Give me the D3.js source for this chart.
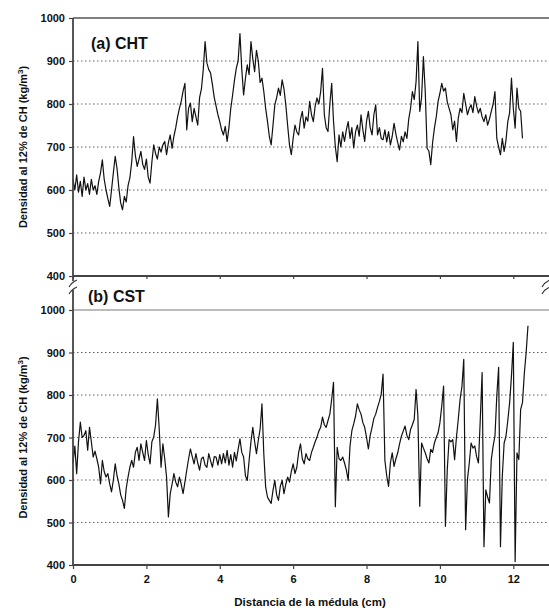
<!DOCTYPE html>
<html>
<head>
<meta charset="utf-8">
<script src="https://cdn.jsdelivr.net/npm/d3@7"></script>
<style>
  html, body { margin: 0; padding: 0; background: #fff; }
  svg { display: block; font-family: Arial, "Liberation Sans", sans-serif; }
  .tick text { font-weight: bold; font-size: 11px; fill: #111; }
</style>
</head>
<body>
<div id="chart"></div>
<script>
// sampling step of the densitometer profile (cm)
const STEP = 0.05

// (a) CHT density profile, kg/m3, one value every STEP cm from the pith
const chtDensity = [
  625, 600, 635, 595, 620, 585, 630, 600, 615, 590,
  625, 600, 610, 590, 620, 640, 670, 625, 600, 580,
  562, 600, 640, 678, 650, 605, 570, 554, 585, 572,
  610, 628, 665, 724, 680, 655, 672, 690, 660, 648,
  672, 630, 616, 665, 705, 685, 672, 700, 688, 705,
  713, 682, 710, 728, 697, 725, 745, 770, 790, 806,
  830, 848, 740, 790, 802, 759, 790, 770, 751, 815,
  835, 880, 945, 895, 880, 872, 845, 815, 795, 775,
  759, 740, 728, 748, 713, 745, 790, 821, 855, 883,
  900, 964, 880, 821, 860, 891, 868, 945, 905, 875,
  925, 900, 850, 860, 829, 790, 760, 725, 705, 750,
  798, 815, 837, 820, 856, 835, 798, 750, 705, 682,
  720, 751, 735, 728, 765, 783, 744, 770, 760, 806,
  775, 759, 795, 814, 800, 829, 883, 775, 745, 736,
  800, 848, 760, 700, 666, 728, 700, 735, 713, 740,
  759, 720, 745, 698, 735, 751, 725, 775, 740, 713,
  760, 783, 745, 728, 775, 798, 728, 745, 720, 717,
  740, 712, 736, 705, 725, 755, 730, 710, 693, 725,
  712, 735, 720, 765, 790, 829, 810, 852, 945, 783,
  815, 910, 829, 697, 690, 659, 710, 744, 770, 806,
  825, 848, 830, 837, 805, 790, 775, 740, 760, 713,
  767, 790, 780, 825, 800, 775, 790, 798, 780, 817,
  795, 779, 790, 770, 759, 775, 751, 765, 783, 800,
  829, 720, 700, 682, 720, 690, 715, 759, 780, 860,
  790, 744, 837, 790, 783, 720,
]

// (b) CST density profile, kg/m3, one value every STEP cm from the pith
const cstDensity = [
  640, 680, 615, 690, 736, 700, 705, 716, 670, 724,
  690, 654, 668, 650, 630, 591, 646, 620, 607, 615,
  591, 572, 600, 638, 610, 591, 565, 552, 533, 580,
  607, 630, 646, 630, 665, 677, 646, 685, 665, 646,
  693, 660, 638, 690, 701, 730, 791, 720, 630, 685,
  650, 607, 513, 568, 590, 615, 595, 584, 607, 590,
  568, 595, 623, 650, 673, 655, 638, 662, 640, 623,
  650, 654, 635, 630, 662, 645, 630, 655, 654, 635,
  660, 638, 662, 640, 670, 635, 660, 630, 665, 645,
  672, 697, 665, 654, 610, 599, 646, 690, 724, 690,
  662, 693, 720, 779, 662, 584, 560, 552, 545, 575,
  599, 565, 552, 585, 599, 568, 590, 607, 595, 620,
  638, 615, 630, 665, 685, 650, 638, 662, 650, 646,
  665, 677, 690, 701, 715, 724, 748, 730, 724, 740,
  755, 790, 830, 537, 677, 650, 646, 654, 640, 623,
  599, 680, 716, 732, 750, 779, 765, 755, 735, 724,
  700, 673, 705, 724, 745, 755, 771, 785, 802, 849,
  646, 610, 585, 640, 664, 632, 650, 664, 685, 703,
  715, 727, 705, 695, 719, 730, 743, 813, 750, 538,
  687, 675, 664, 650, 640, 672, 665, 687, 700, 711,
  735, 774, 821, 491, 624, 695, 690, 695, 648, 700,
  743, 790, 820, 884, 483, 601, 640, 687, 675, 680,
  655, 640, 743, 853, 443, 577, 560, 546, 648, 680,
  703, 798, 865, 443, 609, 687, 703, 740, 782, 845,
  924, 408, 664, 648, 766, 782, 850, 900, 963,
]

const densityTicks = [400, 500, 600, 700, 800, 900, 1000]
const gridTicks = [500, 600, 700, 800, 900]
const distanceTicks = [0, 2, 4, 6, 8, 10, 12]

const panels = [
  { label: "(a) ", name: "CHT", values: chtDensity, top: 18, bottom: 276 },
  { label: "(b) ", name: "CST", values: cstDensity, top: 310, bottom: 565 },
]

const width = 549
const height = 615
const left = 73

const svg = d3
  .select("#chart")
  .append("svg")
  .attr("width", width)
  .attr("height", height)

const x = d3.scaleLinear().domain([0, 13]).range([left, 550])

/*
 * ------------------------------------------------
 * One panel per profile
 * ------------------------------------------------
 */
panels.forEach((p, k) => {
  const y = d3.scaleLinear().domain([400, 1000]).range([p.bottom, p.top])

  // dotted grid
  svg
    .append("g")
    .selectAll("line")
    .data(gridTicks)
    .enter()
    .append("line")
    .attr("x1", left)
    .attr("x2", width)
    .attr("y1", (d) => y(d))
    .attr("y2", (d) => y(d))
    .attr("stroke", "#666")
    .attr("stroke-width", 1.2)
    .attr("stroke-dasharray", "1.5,2.5")

  // 1000 line closes the panel
  svg
    .append("line")
    .attr("x1", left)
    .attr("x2", width)
    .attr("y1", y(1000))
    .attr("y2", y(1000))
    .attr("stroke", k === 0 ? "#555" : "#bbb")
    .attr("stroke-width", k === 0 ? 1.6 : 1.8)

  // profile
  const line = d3
    .line()
    .x((d, i) => x(i * STEP))
    .y((d) => y(d))

  svg
    .append("path")
    .datum(p.values)
    .attr("d", line)
    .attr("fill", "none")
    .attr("stroke", "#111")
    .attr("stroke-width", 1.2)
    .attr("stroke-linejoin", "round")

  // y axis
  const yAxis = svg
    .append("g")
    .attr("transform", `translate(${left},0)`)
    .call(
      d3.axisLeft(y).tickValues(densityTicks).tickSize(4).tickPadding(4).tickFormat(d3.format("d"))
    )
  yAxis.select(".domain").remove()
  yAxis.selectAll(".tick line").attr("stroke", "#444").attr("stroke-width", 1.2)

  // x axis
  const xAxis = svg
    .append("g")
    .attr("transform", `translate(0,${p.bottom})`)
    .call(
      d3.axisBottom(x).tickValues(distanceTicks).tickSize(k === 0 ? 3 : 4).tickPadding(6)
        .tickFormat(k === 0 ? "" : d3.format("d"))
    )
  xAxis.select(".domain").remove()
  xAxis.selectAll(".tick line").attr("stroke", "#444").attr("stroke-width", 1.2)

  svg
    .append("line")
    .attr("x1", left)
    .attr("x2", width)
    .attr("y1", p.bottom)
    .attr("y2", p.bottom)
    .attr("stroke", "#444")
    .attr("stroke-width", 1.8)

  // panel label
  const lab = svg
    .append("text")
    .attr("x", k === 0 ? 91 : 88)
    .attr("y", k === 0 ? 49 : 302)
    .attr("font-size", 16)
    .attr("font-weight", "bold")
    .attr("fill", "#111")
  lab.append("tspan").text(p.label)
  lab.append("tspan").text(p.name)

  // y title
  const yTitle = svg
    .append("text")
    .attr("transform", `translate(27,${(p.top + p.bottom) / 2}) rotate(-90)`)
    .attr("text-anchor", "middle")
    .attr("font-size", 11)
    .attr("font-weight", "bold")
    .attr("fill", "#111")
  yTitle.append("tspan").text("Densidad al 12% de CH (kg/m")
  yTitle.append("tspan").attr("font-size", 8).attr("dy", -4).text("3")
  yTitle.append("tspan").attr("dy", 4).text(")")
})

/*
 * ------------------------------------------------
 * Left axis with the break between panels
 * ------------------------------------------------
 */
svg
  .append("line")
  .attr("x1", left).attr("x2", left)
  .attr("y1", 18).attr("y2", 281)
  .attr("stroke", "#444").attr("stroke-width", 1.8)

svg
  .append("line")
  .attr("x1", left).attr("x2", left)
  .attr("y1", 290).attr("y2", 565)
  .attr("stroke", "#444").attr("stroke-width", 1.8)

const breakMark = (cx) => {
  ;[283, 290].forEach((cy) => {
    svg
      .append("path")
      .attr("d", `M${cx - 4},${cy + 4} Q${cx - 1},${cy - 1} ${cx + 4},${cy - 3}`)
      .attr("fill", "none")
      .attr("stroke", "#333")
      .attr("stroke-width", 1.2)
  })
}
breakMark(left)
breakMark(546)

/*
 * ------------------------------------------------
 * X title
 * ------------------------------------------------
 */
svg
  .append("text")
  .attr("x", 310)
  .attr("y", 606)
  .attr("text-anchor", "middle")
  .attr("font-size", 11.5)
  .attr("font-weight", "bold")
  .attr("fill", "#111")
  .text("Distancia de la médula (cm)")
</script>
</body>
</html>
